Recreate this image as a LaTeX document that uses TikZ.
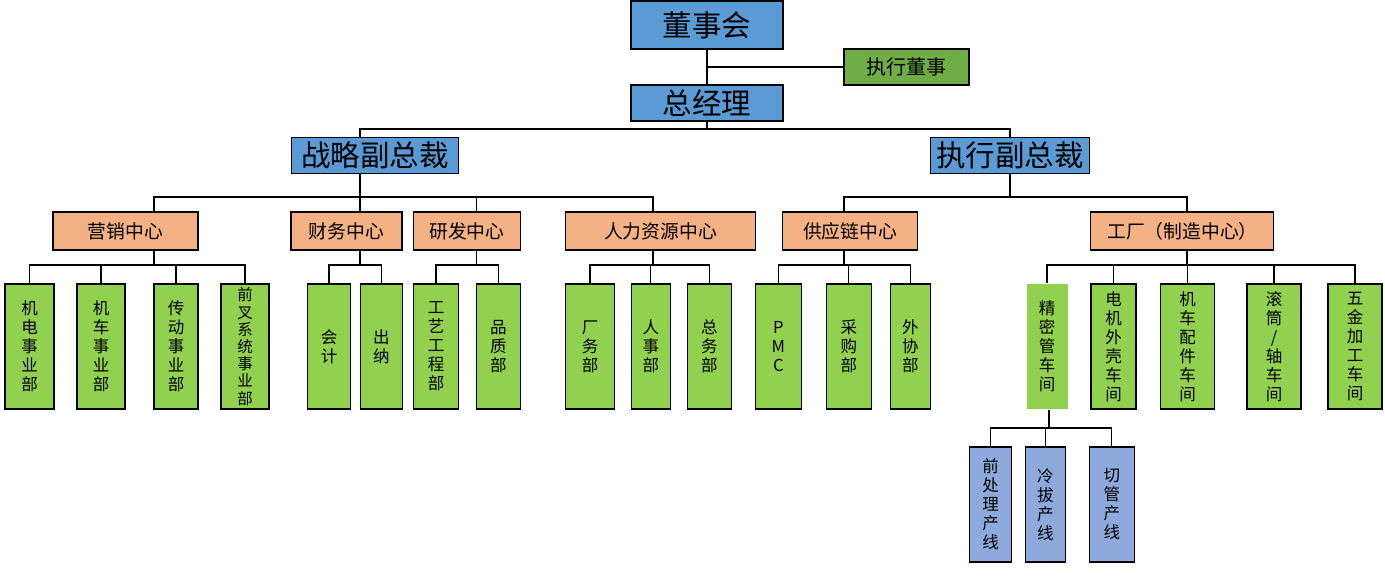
\documentclass[tikz,border=0pt]{standalone}
\usepackage{fontspec}
\setmainfont{Noto Sans CJK SC}
\usepackage{tikz}
\usetikzlibrary{calc}

\definecolor{chefblau}{HTML}{5B9BD5}
\definecolor{vorstandgruen}{HTML}{70AD47}
\definecolor{zentrumorange}{HTML}{F4B183}
\definecolor{abtgruen}{HTML}{92D050}
\definecolor{linienblau}{HTML}{8EA9DB}

\begin{document}
\begin{tikzpicture}[
		x=1pt, y=-1pt,                      % Pixelraster, y nach unten
		every node/.style={inner sep=0pt, text=black},
		every path/.style={line width=1.1pt},
		leitung/.style={
			draw,
			fill=chefblau,
			minimum height=36,
			font=\fontsize{29.5}{31}\selectfont},
		vorstand/.style={
			draw,
			fill=vorstandgruen,
			minimum height=36,
			font=\fontsize{20}{22}\selectfont},
		zentrum/.style={
			draw,
			fill=zentrumorange,
			minimum height=38,
			font=\fontsize{18.8}{20}\selectfont},
		abteilung/.style={
			draw,
			fill=abtgruen,
			minimum height=125,
			align=center,
			font=\fontsize{16.5}{19}\selectfont},
		linie/.style={
			draw,
			fill=linienblau,
			minimum height=115,
			align=center,
			font=\fontsize{16.5}{19}\selectfont}
		]
		\useasboundingbox (0,0) rectangle (1385,580);
		
		% 0. Spitze
		\node[leitung, minimum width=152, minimum height=48] (dsh) at (707,25) {董事会};
		\node[vorstand, minimum width=125] (zxds) at (906.5,67) {执行董事};
		\node[leitung, minimum width=152] (zjl) at (707,103) {总经理};
		
		% 1. Vizepraesidenten
		\node[leitung, minimum width=167] (zl) at (375,155.3) {战略副总裁};
		\node[leitung, minimum width=159] (zx) at (1010,155.3) {执行副总裁};
		
		% 2. Zentren
		\node[zentrum, minimum width=145] (yx) at (125.5,231) {营销中心};
		\node[zentrum, minimum width=111] (cw) at (346.5,231) {财务中心};
		\node[zentrum, minimum width=107] (yf) at (466.8,231) {研发中心};
		\node[zentrum, minimum width=190] (rl) at (660.5,231) {人力资源中心};
		\node[zentrum, minimum width=135] (gy) at (850,231) {供应链中心};
		\node[zentrum, minimum width=183] (gc) at (1182.4,231) {工厂（制造中心）};
		
		% 3. Abteilungen
		\node[abteilung, minimum width=49] (yx1) at (29.5,346.5) {机\\电\\事\\业\\部};
		\node[abteilung, minimum width=48] (yx2) at (101,346.5) {机\\车\\事\\业\\部};
		\node[abteilung, minimum width=44] (yx3) at (176,346.5) {传\\动\\事\\业\\部};
		\node[abteilung, minimum width=48, font=\fontsize{15.5}{17.2}\selectfont] (yx4) at (245,346.5) {前\\叉\\系\\统\\事\\业\\部};
		\node[abteilung, minimum width=43] (cw1) at (329,346.5) {会\\计};
		\node[abteilung, minimum width=42] (cw2) at (381.3,346.5) {出\\纳};
		\node[abteilung, minimum width=45] (yf1) at (436,346.5) {工\\艺\\工\\程\\部};
		\node[abteilung, minimum width=44] (yf2) at (498.3,346.5) {品\\质\\部};
		\node[abteilung, minimum width=49] (rl1) at (590,346.5) {厂\\务\\部};
		\node[abteilung, minimum width=39] (rl2) at (650.8,346.5) {人\\事\\部};
		\node[abteilung, minimum width=44] (rl3) at (709.3,346.5) {总\\务\\部};
		\node[abteilung, minimum width=46] (gy1) at (778.3,346.5) {P\\M\\C};
		\node[abteilung, minimum width=45] (gy2) at (848.8,346.5) {采\\购\\部};
		\node[abteilung, minimum width=40] (gy3) at (910.3,346.5) {外\\协\\部};
		\node[abteilung, draw=none, minimum width=41] (gc1) at (1047,346.5) {精\\密\\管\\车\\间};
		\node[abteilung, minimum width=45] (gc2) at (1113.5,346.5) {电\\机\\外\\壳\\车\\间};
		\node[abteilung, minimum width=54] (gc3) at (1187.5,346.5) {机\\车\\配\\件\\车\\间};
		\node[abteilung, minimum width=54] (gc4) at (1274,346.5) {滚\\筒\\/\\轴\\车\\间};
		\node[abteilung, minimum width=54] (gc5) at (1355,346.5) {五\\金\\加\\工\\车\\间};
		
		% 4. Produktionslinien
		\node[linie, minimum width=42] (jm1) at (990.5,504.5) {前\\处\\理\\产\\线};
		\node[linie, minimum width=40] (jm2) at (1045.3,504.5) {冷\\拔\\产\\线};
		\node[linie, minimum width=45] (jm3) at (1111.8,504.5) {切\\管\\产\\线};
		
		% Sammelschienen
		\coordinate (b1) at (0,129);
		\coordinate (b2) at (0,197);
		\coordinate (b3) at (0,265);
		\coordinate (b4) at (0,428);
		
		% Verbindungen
		\draw (dsh.south) -- (zjl.north);
		\draw (dsh.south |- zxds.west) -- (zxds.west);
		\draw (zjl.south) -- (zjl.south |- b1) -| ([xshift=-15]zl.north);
		\draw (zjl.south |- b1) -| (zx.north);
		
		\foreach \n/\dx in {yx/28.5, cw/13.5, yf/10, rl/-7.5}
		\draw ([xshift=-15]zl.south) -- ([xshift=-15]zl.south |- b2) -| ([xshift=\dx]\n.north);
		\foreach \n/\dx in {gy/-6, gc/4.6}
		\draw (zx.south) -- (zx.south |- b2) -| ([xshift=\dx]\n.north);
		
		\foreach \p/\dx/\kinder in {yx/28.5/{yx1,yx2,yx3,yx4}, cw/13.5/{cw1,cw2},
			yf/10/{yf1,yf2}, rl/-7.5/{rl1,rl2,rl3}, gy/-6/{gy1,gy2,gy3},
			gc/4.6/{gc1,gc2,gc3,gc4,gc5}}{
			\foreach \k in \kinder
			\draw ([xshift=\dx]\p.south) -- ([xshift=\dx]\p.south |- b3) -| (\k.north);
		}
		
		\foreach \k in {jm1,jm2,jm3}
		\draw ([xshift=2]gc1.south) -- ([xshift=2]gc1.south |- b4) -| (\k.north);
		
	\end{tikzpicture}
\end{document}
